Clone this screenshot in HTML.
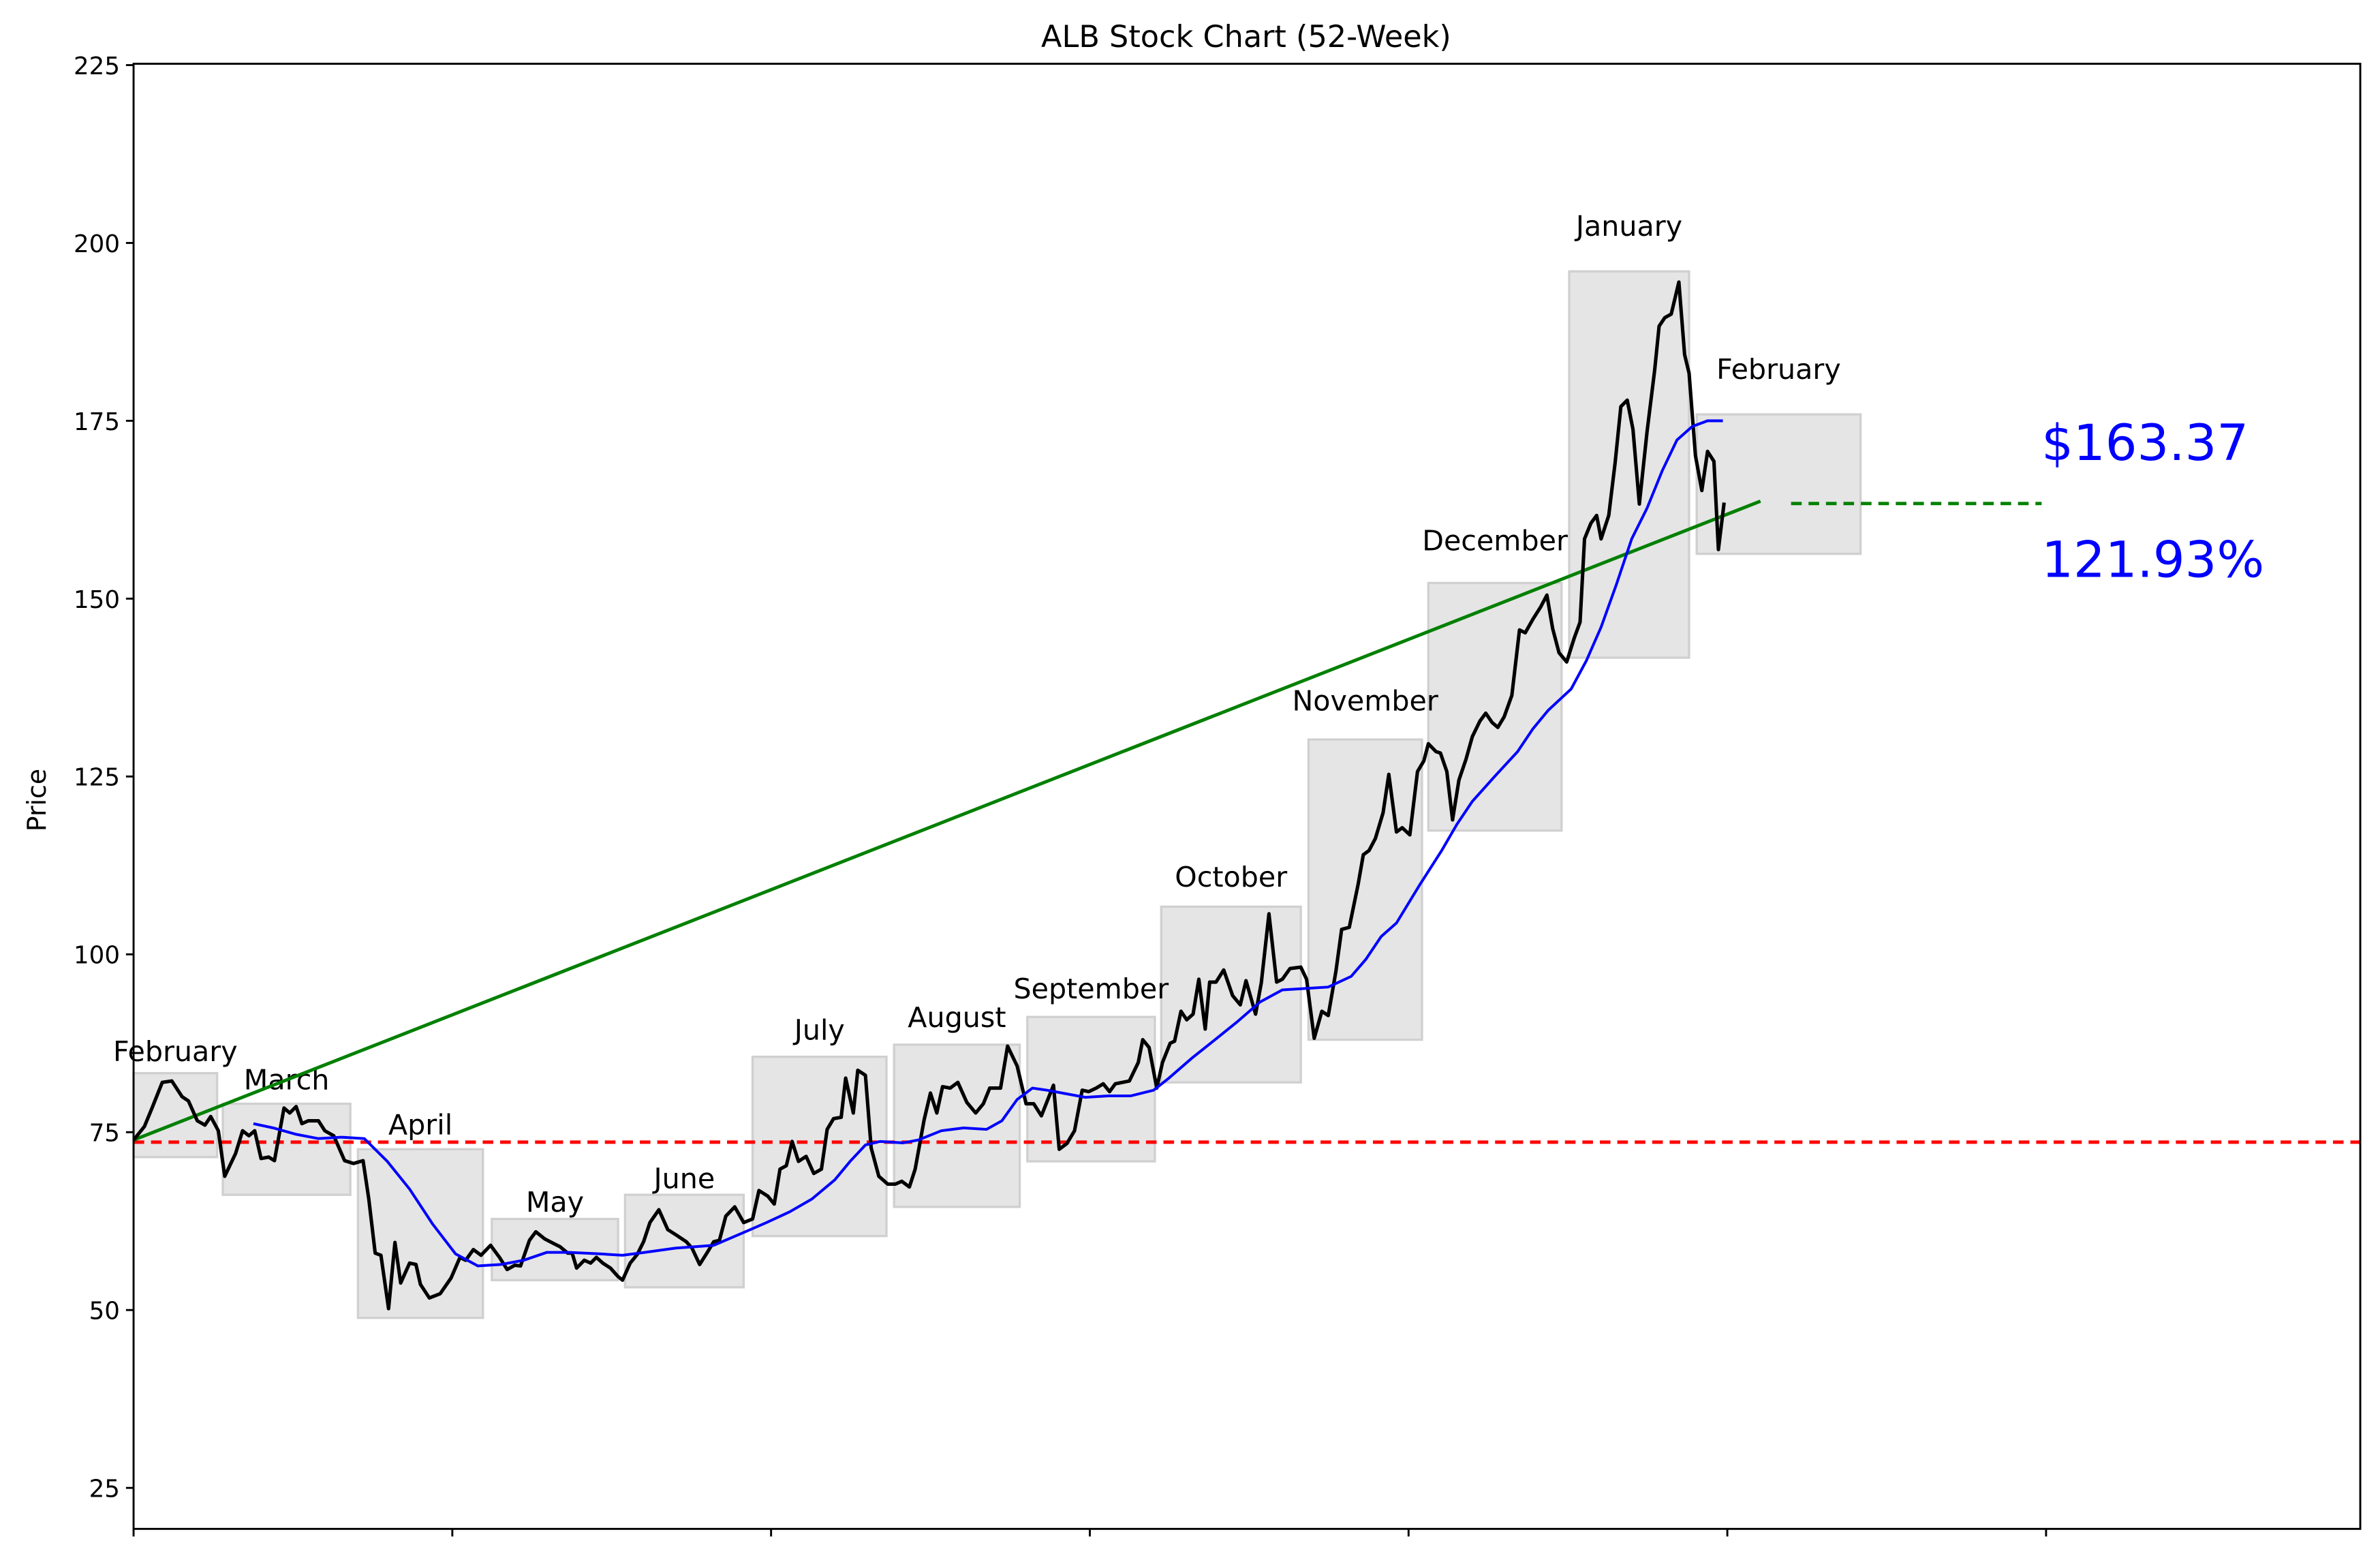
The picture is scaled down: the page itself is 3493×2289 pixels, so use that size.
<!DOCTYPE html>
<html><head><meta charset="utf-8"><style>
html,body{margin:0;padding:0;background:#fff}
svg{display:block}
text{font-family:"DejaVu Sans","Liberation Sans",sans-serif}
</style></head><body>
<svg id="chart" xmlns="http://www.w3.org/2000/svg" width="3493" height="2289" viewBox="0 0 1568 1027.5" preserveAspectRatio="none">
<rect x="0" y="0" width="1568" height="1027.5" fill="#fff"/>
<g id="boxes"></g>
<g id="labels"></g>
<g id="lines"></g>
<g id="axes"></g>
<text x="821" y="31" text-anchor="middle" font-size="20">ALB Stock Chart (52-Week)</text>
<text x="30" y="527" text-anchor="middle" font-size="17" transform="rotate(-90 30 527)">Price</text>
<text x="1345" y="303" font-size="33" fill="#0000ff">$163.37</text>
<text x="1345" y="380" font-size="33" fill="#0000ff">121.93%</text>
</svg>
<script>
const priceIdx=[0,1.7,2.9,4.5,6.0,7.6,8.6,10.0,11.2,12.1,13.3,14.3,16.0,17.1,18.1,19.0,20.0,21.2,22.1,23.6,24.5,25.5,26.4,27.4,29.0,30.0,31.4,33.1,34.5,36.0,36.9,37.9,38.8,40.0,41.0,41.9,43.3,44.3,45.0,46.4,48.1,49.8,51.2,52.1,53.3,54.5,56.0,57.4,58.6,59.8,60.7,62.1,63.1,64.5,66.0,66.9,68.1,68.8,69.5,70.7,71.7,72.6,73.6,74.8,76.0,76.7,77.9,79.0,80.0,81.0,82.4,83.8,85.2,86.7,87.6,88.8,90.0,91.0,91.9,92.9,94.3,95.7,97.1,98.1,99.5,100.5,101.4,102.4,103.3,104.3,105.5,106.7,107.9,108.8,109.8,111.0,111.7,112.9,113.6,114.8,115.7,116.9,118.3,119.5,120.5,121.7,122.6,124.0,125.0,126.0,126.9,128.1,129.3,130.7,132.1,133.3,134.3,136.0,137.1,138.6,140.0,141.2,142.4,144.3,145.2,146.4,147.6,148.8,149.8,151.0,152.1,153.1,154.0,156.2,157.6,158.3,159.3,160.5,161.4,162.6,163.3,164.3,165.2,166.2,167.1,168.1,168.8,169.8,171.0,172.4,173.6,174.5,176.0,176.9,178.1,179.3,180.2,181.4,183.1,184.0,185.2,186.4,187.4,188.6,189.5,190.7,192.1,192.9,193.8,194.8,196.0,196.9,198.1,199.0,200.2,201.4,202.4,203.1,204.3,205.0,206.0,206.9,207.9,209.0,210.0,211.2,212.1,213.1,214.0,215.0,216.2,217.4,218.3,219.5,220.7,221.7,222.6,223.6,224.8,226.0,226.9,227.6,228.6,229.5,230.2,231.4,232.4,233.3,234.3,235.2,236.2,237.4,238.6,239.3,240.2,241.2,242.4,243.3,244.0,245.0,246.0,246.9,247.9,248.6,249.5];
const prices=[73.9,75.8,78.4,82,82.2,80,79.4,76.6,76,77.2,75.2,68.8,72,75.2,74.5,75.2,71.3,71.5,71,78.4,77.7,78.6,76.2,76.6,76.6,75.2,74.5,71,70.6,71,65.6,58,57.7,50.2,59.5,53.8,56.6,56.4,53.6,51.7,52.3,54.5,57.4,57,58.5,57.7,59.1,57.4,55.7,56.3,56.2,59.8,61,60,59.3,58.9,58,58,55.9,57,56.6,57.4,56.6,55.9,54.7,54.2,56.6,57.8,59.6,62.3,64.1,61.3,60.5,59.6,58.7,56.4,58.1,59.6,59.8,63.2,64.5,62.3,62.8,66.8,66,64.9,69.8,70.3,73.7,70.9,71.6,69.2,69.8,75.4,76.9,77.1,82.6,77.7,83.7,83,72.8,68.8,67.7,67.7,68.1,67.3,69.8,76.7,80.5,77.7,81.4,81.2,82,79.2,77.7,79,81.2,81.2,87.1,84.3,79,79,77.3,81.6,72.6,73.4,75.2,80.9,80.7,81.2,81.8,80.7,81.8,82.2,84.8,88,86.9,81.2,84.8,87.5,87.8,92,90.8,91.6,96.5,89.5,96.1,96.1,97.8,94.2,92.9,96.3,91.6,96,105.7,96.1,96.5,98,98.2,96.5,88.2,92,91.4,97.6,103.5,103.8,109.9,114,114.6,116.3,119.9,125.3,117.2,117.8,116.8,125.7,127.2,129.6,128.5,128.3,125.7,118.9,124.5,127.4,130.6,132.8,133.9,132.6,131.9,133.4,136.4,145.6,145.2,147.1,148.8,150.5,145.8,142.4,141.1,144.5,146.7,158.4,160.6,161.7,158.4,161.7,169.1,177,177.9,173.8,163.3,173.4,182.1,188.3,189.5,190,194.5,184.3,181.7,170.1,165.2,170.7,169.3,156.9,163.5];
const maIdx=[18.8,21.9,25.5,29.0,32.6,36.2,39.8,43.3,46.9,50.5,54.0,57.6,61.2,64.8,68.3,73.1,76.7,80.2,85.0,91.0,95.7,99.3,102.9,106.4,110.0,112.4,114.8,117.1,120.7,123.1,126.7,130.2,133.8,136.2,138.6,141.0,143.3,145.7,149.3,152.9,156.4,160.0,162.4,166.0,169.5,173.1,176.7,180.2,183.8,187.4,191.0,193.3,195.7,198.1,201.7,205.2,207.6,210.0,213.6,217.1,219.5,221.9,225.5,227.9,230.2,232.6,235.0,237.4,239.8,242.1,244.5,246.9,249.3];
const maVals=[76.2,75.6,74.7,74.1,74.3,74.1,70.9,67,62.1,57.9,56.2,56.4,57,58.1,58.1,57.9,57.7,58.1,58.7,59.1,60.9,62.3,63.8,65.6,68.3,70.9,73.2,73.7,73.5,73.9,75.2,75.6,75.4,76.6,79.6,81.2,80.9,80.5,79.9,80.1,80.1,80.9,82.6,85.4,87.9,90.5,93.3,95,95.2,95.4,96.9,99.3,102.5,104.4,109.7,114.6,118.3,121.5,125.1,128.5,131.7,134.3,137.3,141.3,146,152,158.4,162.7,168,172.3,174.2,175,175];
const months=["February","March","April","May","June","July","August","September","October","November","December","January","February"];
const boxStart=[0,14.0,35.2,56.2,77.1,97.1,119.3,140.2,161.2,184.3,203.1,225.2,245.2];
const boxEnd=[13.1,34.0,54.8,76.0,95.7,118.1,139.0,160.2,183.1,202.1,224.0,244.0,270.9];
const boxHigh=[83.3,79,72.6,62.8,66.2,85.6,87.3,91.2,106.7,130.2,152.2,196,175.9];
const boxLow=[71.5,66.2,48.9,54.2,53.2,60.4,64.5,70.9,82,88,117.4,141.7,156.3];
const labelPrice=[85.0,81.0,74.7,63.8,67.1,88.0,89.8,93.8,109.5,134.3,156.8,201.0,180.9];
const yTicks=[25,50,75,100,125,150,175,200,225];
const xTicks=[0,50,100,150,200,250,300];
const startPrice=73.6, lastPrice=163.37, trendStart=[0,73.9], trendEnd=[255.2,163.7], projRange=[260,299.3];

const NS="http://www.w3.org/2000/svg";
const X0=88,X1=1555,Y0=42,Y1=1007;
const xs=i=>88+4.2*i;
const ys=p=>980-(p-25)*117.14/25;
function mk(tag,attrs,parent){const e=document.createElementNS(NS,tag);for(const k in attrs)e.setAttribute(k,attrs[k]);parent.appendChild(e);return e;}
const boxes=document.getElementById('boxes'),labels=document.getElementById('labels'),lines=document.getElementById('lines'),axes=document.getElementById('axes');
months.forEach((m,k)=>{
  const r=mk('rect',{x:xs(boxStart[k]),y:ys(boxHigh[k]),width:xs(boxEnd[k])-xs(boxStart[k]),height:ys(boxLow[k])-ys(boxHigh[k]),fill:'#e5e5e5',stroke:'#d0d0d0','stroke-width':1.5},boxes);
  
  
  const t=mk('text',{x:(xs(boxStart[k])+xs(boxEnd[k]))/2,y:ys(labelPrice[k]),'text-anchor':'middle','font-size':18.5},labels);
  t.textContent=m;
  
  
});
const red=mk('line',{x1:X0,x2:X1,y1:ys(startPrice),y2:ys(startPrice),stroke:'#ff0000','stroke-width':2.2,'stroke-dasharray':'7,4.5'},lines);


const g=mk('line',{x1:xs(trendStart[0]),y1:ys(trendStart[1]),x2:xs(trendEnd[0]),y2:ys(trendEnd[1]),stroke:'#008000','stroke-width':2.2},lines);


const gd=mk('line',{x1:xs(projRange[0]),x2:xs(projRange[1]),y1:ys(lastPrice),y2:ys(lastPrice),stroke:'#008000','stroke-width':2.2,'stroke-dasharray':'7,4.5'},lines);


const pp=mk('polyline',{points:priceIdx.map((d,i)=>xs(d)+','+ys(prices[i])).join(' '),fill:'none',stroke:'#000','stroke-width':2.3,'stroke-linejoin':'round'},lines);


const ma=mk('polyline',{points:maIdx.map((d,i)=>xs(d)+','+ys(maVals[i])).join(' '),fill:'none',stroke:'#0000ff','stroke-width':1.8},lines);


const fr=mk('rect',{x:X0,y:Y0,width:X1-X0,height:Y1-Y0,fill:'none',stroke:'#000','stroke-width':1.3},axes);


yTicks.forEach(v=>{
  const l=mk('line',{x1:X0-5,x2:X0,y1:ys(v),y2:ys(v),stroke:'#000','stroke-width':1.3},axes);
  
  
  const t=mk('text',{x:X0-9,y:ys(v)+6,'text-anchor':'end','font-size':16},axes);
  t.textContent=v;
  
  
});
xTicks.forEach(v=>{
  const l=mk('line',{x1:xs(v),x2:xs(v),y1:Y1,y2:Y1+5,stroke:'#000','stroke-width':1.3},axes);
  
  
});
</script>
</body></html>
